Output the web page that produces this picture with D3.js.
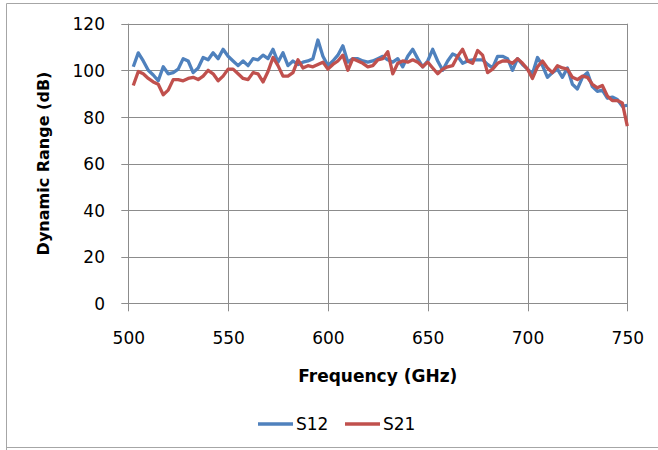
<!DOCTYPE html>
<html>
<head>
<meta charset="utf-8">
<script src="https://cdnjs.cloudflare.com/ajax/libs/d3/7.8.5/d3.min.js"></script>
<style>
  body { margin: 0; background: #fff; }
  text { font-family: "DejaVu Sans", sans-serif; fill: #000; }
</style>
</head>
<body>
<script>
// frequency grid (GHz) shared by both traces
const freq = [
  502.5, 505, 507.5, 510, 512.5, 515, 517.5, 520, 522.5, 525,
  527.5, 530, 532.5, 535, 537.5, 540, 542.5, 545, 547.5, 550,
  552.5, 555, 557.5, 560, 562.5, 565, 567.5, 570, 572.5, 575,
  577.5, 580, 582.5, 585, 587.5, 590, 592.5, 595, 597.5, 600,
  602.5, 605, 607.5, 610, 612.5, 615, 617.5, 620, 622.5, 625,
  627.5, 630, 632.5, 635, 637.5, 640, 642.5, 645, 647.5, 650,
  652.5, 655, 657.5, 660, 662.5, 665, 667.5, 670, 672.5, 675,
  677.5, 680, 682.5, 685, 687.5, 690, 692.5, 695, 697.5, 700,
  702.5, 705, 707.5, 710, 712.5, 715, 717.5, 720, 722.5, 725,
  727.5, 730, 732.5, 735, 737.5, 740, 742.5, 745, 747.5, 750
];

const s12 = [
  101.5, 107.5, 104, 100, 98, 95.5, 101.5, 98.5, 99, 100.5,
  105, 104, 99, 101, 105.5, 104.5, 107.5, 105, 109, 106,
  104, 102, 104, 102, 105, 104.5, 106.5, 105, 109, 103.5,
  107.5, 102, 104, 102.5, 103.5, 104, 105, 113, 106, 102,
  104, 106.5, 110.5, 103.5, 105, 105, 104, 103.5, 104, 105,
  106, 104.5, 103.5, 105, 101.5, 106, 109, 105, 101.5, 104,
  109, 104, 100, 104, 107, 106, 103, 104, 104.5, 104.5,
  104.5, 102.5, 101, 106, 106, 105, 100, 105, 102.5, 100.5,
  98.5, 105.5, 102, 97, 99, 100.5, 97, 101, 94, 92,
  97, 99, 93, 91, 91.5, 88, 88.5, 87.5, 84.5, 85
];

const s21 = [
  93.5, 99.5, 98.5, 96.5, 95, 94, 89.5, 91.5, 96, 96,
  95.5, 96.5, 97, 96, 97.5, 100, 98.5, 95.5, 97.5, 100.5,
  100.5, 98.5, 96.5, 96, 99, 98.5, 95, 99.5, 105.5, 102,
  97.5, 97.5, 99, 104.5, 101, 102, 101.5, 102.5, 103.5, 100.5,
  102.5, 104, 106.5, 100, 105, 104, 103, 101.5, 102, 104.5,
  105, 108, 98.5, 103, 104, 103.5, 104.5, 103.5, 101.5, 103.5,
  101, 98.5, 100.5, 101.5, 102, 106, 109, 104, 103, 108.5,
  106.5, 99, 100.5, 103, 104, 104, 103, 105, 103, 100.5,
  96.5, 101.5, 104, 101, 99, 102, 101, 100.5, 97, 96,
  97.5, 97, 94, 92.5, 93.5, 89, 87, 87, 86, 76
];

const xTicks = [500, 550, 600, 650, 700, 750];
const yTicks = [0, 20, 40, 60, 80, 100, 120];
const seriesNames = ["S12", "S21"];
const seriesColors = ["#4f81bd", "#c0504d"];

const W = 658, H = 450;
const plotL = 128.3, plotR = 627.3, plotT = 23.7, plotB = 303.3;

const svg = d3.select("body").append("svg")
  .attr("width", W)
  .attr("height", H);

svg.append("rect").attr("width", W).attr("height", H).attr("fill", "#fff");

// outer chart frame (left, top, bottom)
svg.append("path")
  .attr("d", "M658,3.5 H6.5 V450 M6.5,447.5 H658")
  .attr("fill", "none")
  .attr("stroke", "#a6a6a6")
  .attr("stroke-width", 1);

const x = d3.scaleLinear().domain([500, 750]).range([plotL, plotR]);
const y = d3.scaleLinear().domain([0, 120]).range([plotB, plotT]);

const gridColor = "#8c8c8c";

// horizontal gridlines (with tick stubs to the left)
svg.append("g").selectAll("line")
  .data(yTicks)
  .enter().append("line")
  .attr("x1", plotL - 7).attr("x2", plotR)
  .attr("y1", d => Math.round(y(d)) + 0.5)
  .attr("y2", d => Math.round(y(d)) + 0.5)
  .attr("stroke", gridColor);

// vertical gridlines (with tick stubs below)
svg.append("g").selectAll("line")
  .data(xTicks)
  .enter().append("line")
  .attr("x1", d => Math.round(x(d)) + 0.5)
  .attr("x2", d => Math.round(x(d)) + 0.5)
  .attr("y1", plotT).attr("y2", plotB + 8)
  .attr("stroke", gridColor);

// axes, only for the labels
const yAxis = d3.axisLeft(y).tickValues(yTicks).tickSize(0).tickPadding(0);
const gy = svg.append("g")
  .attr("transform", "translate(105,0)")
  .call(yAxis);
gy.select(".domain").remove();
gy.selectAll("text").style("font-size", "17px").style("font-family", "DejaVu Sans").attr("dy", "0.36em");

const xAxis = d3.axisBottom(x).tickValues(xTicks).tickSize(0).tickPadding(0);
const gx = svg.append("g")
  .attr("transform", "translate(0,331)")
  .call(xAxis);
gx.select(".domain").remove();
gx.selectAll("text").style("font-size", "17px").style("font-family", "DejaVu Sans").attr("dy", "0.75em");

// axis titles
svg.append("text")
  .attr("x", (plotL + plotR) / 2)
  .attr("y", 382)
  .attr("text-anchor", "middle")
  .style("font-size", "17px")
  .style("font-weight", "bold")
  .text("Frequency (GHz)");

svg.append("text")
  .attr("transform", "translate(49," + ((plotT + plotB) / 2) + ") rotate(-90)")
  .attr("text-anchor", "middle")
  .style("font-size", "16px")
  .style("font-weight", "bold")
  .text("Dynamic Range (dB)");

// traces
const line = d3.line()
  .x((d, i) => x(freq[i]))
  .y(d => y(d));

[s12, s21].forEach((vals, k) => {
  svg.append("path")
    .datum(vals)
    .attr("d", line)
    .attr("fill", "none")
    .attr("stroke", seriesColors[k])
    .attr("stroke-width", 3.3)
    .attr("stroke-linejoin", "round");
});

// legend
const legend = svg.append("g").attr("transform", "translate(258,424)");
const legendX = [0, 87];
seriesNames.forEach((name, k) => {
  const g = legend.append("g").attr("transform", "translate(" + legendX[k] + ",0)");
  g.append("line")
    .attr("x1", 0).attr("x2", 35)
    .attr("y1", 0).attr("y2", 0)
    .attr("stroke", seriesColors[k])
    .attr("stroke-width", 3.3);
  g.append("text")
    .attr("x", 38)
    .attr("dy", "0.36em")
    .style("font-size", "17px")
    .text(name);
});
</script>
</body>
</html>
